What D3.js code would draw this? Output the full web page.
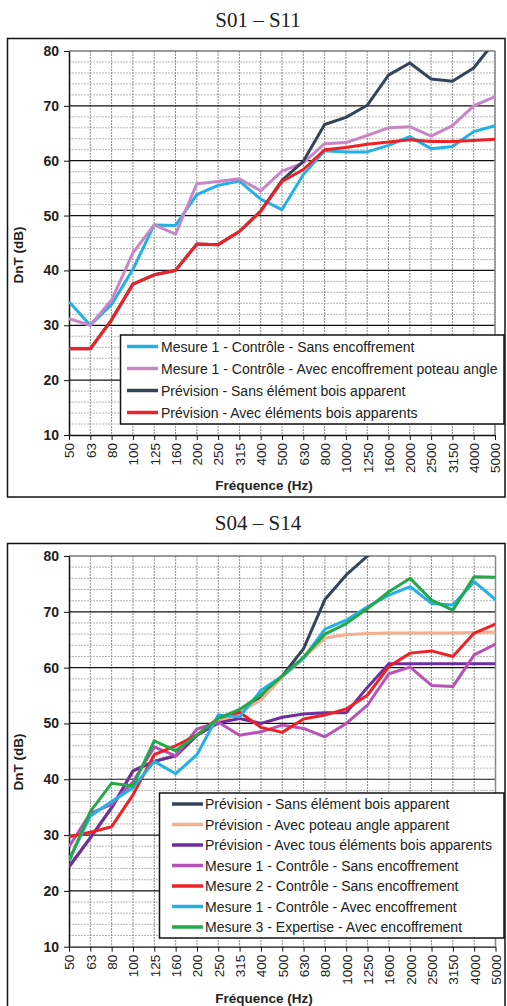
<!DOCTYPE html>
<html>
<head>
<meta charset="utf-8">
<script src="https://cdn.jsdelivr.net/npm/d3@7"></script>
<style>
  body { margin: 0; background: #fff; }
  svg { display: block; }
  text { font-family: "Liberation Sans", Arial, sans-serif; }
</style>
</head>
<body>
<svg id="chart" width="507" height="1006"></svg>
<script>
// Frequency bands (Hz)
const freqs = ["50", "63", "80", "100", "125", "160", "200", "250", "315", "400", "500",
  "630", "800", "1000", "1250", "1600", "2000", "2500", "3150", "4000", "5000"];
const yTicks = [10, 20, 30, 40, 50, 60, 70, 80];

// S01 - S11
const topTitle = "S01 – S11";
const topNames = [
  "Mesure 1 - Contrôle - Sans encoffrement",
  "Mesure 1 - Contrôle - Avec encoffrement poteau angle",
  "Prévision - Sans élément bois apparent",
  "Prévision - Avec éléments bois apparents"
];
const topMesure1Sans = [34.3, 30, 33.8, 40.2, 48.3, 48.2, 53.8, 55.5, 56.3, 53, 51.1, 57.5, 61.8, 61.6, 61.6, 62.8, 64.4, 62.2, 62.6, 65.3, 66.4];
const topMesure1Avec = [31.2, 30, 34.6, 43.2, 48.3, 46.6, 55.8, 56.2, 56.7, 54.5, 58.1, 59.6, 63.1, 63.3, 64.6, 66, 66.2, 64.5, 66.4, 70, 71.7];
const topPrevSans = [25.7, 25.7, 31, 37.5, 39.2, 40, 44.8, 44.7, 47.1, 50.8, 56.4, 59.9, 66.6, 67.9, 70.1, 75.6, 77.8, 74.9, 74.5, 76.9, 81.8];
const topPrevAvec = [25.7, 25.7, 31, 37.5, 39.2, 40, 44.8, 44.7, 47.1, 50.8, 56.2, 58.4, 62, 62.4, 63, 63.4, 63.8, 63.5, 63.5, 63.7, 63.9];
const topColors = ["#22b0e6", "#c986c6", "#344459", "#ee2226"];

// S04 - S14
const botTitle = "S04 – S14";
const botNames = [
  "Prévision - Sans élément bois apparent",
  "Prévision - Avec poteau angle apparent",
  "Prévision - Avec tous éléments bois apparents",
  "Mesure 1 - Contrôle - Sans encoffrement",
  "Mesure 2 - Contrôle - Sans encoffrement",
  "Mesure 1 - Contrôle - Avec encoffrement",
  "Mesure 3 - Expertise - Avec encoffrement"
];
const botPrevSans = [24.3, 29.5, 34.9, 41.5, 43.2, 44.2, 47.9, 50.2, 52, 54.8, 58.5, 63.4, 72.2, 76.6, 80, 83, 84, 84, 84, 84, 84];
const botPrevPoteau = [24.3, 29.5, 34.9, 41.5, 43.2, 44.2, 47.9, 50.2, 52, 54.2, 58.3, 61.7, 65.3, 65.9, 66.1, 66.2, 66.2, 66.2, 66.2, 66.3, 66.4];
const botPrevTous = [24.3, 29.5, 34.9, 41.5, 43.2, 44.2, 47.9, 50.1, 50.9, 50, 51.1, 51.7, 51.9, 51.9, 56.5, 60.7, 60.7, 60.7, 60.7, 60.7, 60.7];
const botMesure1Sans = [27.9, 33.9, 35.5, 39.5, 45.8, 44.2, 49, 50.2, 47.9, 48.5, 49.7, 49.1, 47.6, 50, 53.3, 58.9, 60.1, 56.8, 56.6, 62.3, 64.2];
const botMesure2Sans = [29.7, 30.5, 31.5, 37.2, 44.4, 46, 47.9, 51, 52, 49.3, 48.4, 50.8, 51.5, 52.6, 55.1, 60.2, 62.6, 63, 62, 66.2, 67.8];
const botMesure1Avec = [25.6, 33.4, 36, 38.5, 43.2, 41, 44.4, 51.5, 51.2, 55.9, 58.5, 61.7, 66.9, 68.5, 70.9, 73, 74.5, 71.5, 71.2, 75.4, 72.2];
const botMesure3 = [25.3, 34.2, 39.3, 38.8, 46.9, 45.1, 47.9, 50.9, 52.5, 55.1, 58.5, 61.9, 66, 67.9, 70.6, 73.6, 76, 72.1, 70.3, 76.3, 76.2];
const botColors = ["#344459", "#f5ae8e", "#6e2f9e", "#b752b7", "#ee2226", "#22b0e6", "#23a84a"];

const svg = d3.select("#chart");

function drawPanel(id, title, names, series, colors, L)
{
  const g = svg.append("g");

  // Title
  g.append("text")
    .attr("x", L.titleX).attr("y", L.titleY)
    .attr("text-anchor", "middle")
    .style("font-family", "'Liberation Serif', 'Times New Roman', serif")
    .style("font-size", "21px")
    .attr("fill", "#222")
    .text(title);

  // Outer frame
  g.append("rect")
    .attr("x", L.frame.x).attr("y", L.frame.y)
    .attr("width", L.frame.w).attr("height", L.frame.h)
    .attr("fill", "none").attr("stroke", "#111").attr("stroke-width", 1.5);

  const x = d3.scalePoint().domain(freqs).range([L.left, L.right]);
  const y = d3.scaleLinear().domain([10, 80]).range([L.bottom, L.top]);

  // Minor horizontal grid every 2 dB
  const minor = d3.range(12, 80, 2).filter(v => v % 10 !== 0);
  g.append("g").selectAll("line").data(minor).enter().append("line")
    .attr("x1", L.left).attr("x2", L.right)
    .attr("y1", d => y(d)).attr("y2", d => y(d))
    .attr("stroke", "#b5b5b5").attr("stroke-width", 1).attr("stroke-dasharray", "2,1");

  // Vertical grid
  g.append("g").selectAll("line").data(freqs.slice(1)).enter().append("line")
    .attr("x1", d => x(d)).attr("x2", d => x(d))
    .attr("y1", L.top).attr("y2", L.bottom)
    .attr("stroke", "#8c8c8c").attr("stroke-width", 1).attr("stroke-dasharray", "2,1");

  // Major horizontal grid
  g.append("g").selectAll("line").data(yTicks.slice(1)).enter().append("line")
    .attr("x1", L.left).attr("x2", L.right)
    .attr("y1", d => y(d)).attr("y2", d => y(d))
    .attr("stroke", d => d === 80 ? "#777" : "#111")
    .attr("stroke-width", d => d === 80 ? 1.5 : 1.2);

  // Axes
  const yAxis = g.append("g")
    .attr("transform", `translate(${ L.left }, 0)`)
    .call(d3.axisLeft(y).tickValues(yTicks).tickSize(5).tickPadding(5).tickSizeOuter(0));
  yAxis.select(".domain").attr("stroke", "#111").attr("stroke-width", 1.5);
  yAxis.selectAll("line").attr("stroke", "#111");
  yAxis.selectAll("text")
    .style("font-size", "14px").style("font-weight", "bold").attr("fill", "#222");

  const xAxis = g.append("g")
    .attr("transform", `translate(0, ${ L.bottom })`)
    .call(d3.axisBottom(x).tickSize(5).tickSizeOuter(0));
  xAxis.select(".domain").attr("stroke", "#111").attr("stroke-width", 1.3);
  xAxis.selectAll("line").attr("stroke", "#111");
  xAxis.selectAll("text")
    .attr("transform", "rotate(-90)")
    .attr("text-anchor", "end")
    .attr("x", -8).attr("y", 0).attr("dy", "0.36em")
    .style("font-size", "13.5px").attr("fill", "#222");

  // Axis titles
  g.append("text")
    .attr("x", L.xLabelX).attr("y", L.xLabelY)
    .attr("text-anchor", "middle")
    .style("font-size", "13.5px").style("font-weight", "bold").attr("fill", "#222")
    .text("Fréquence (Hz)");

  g.append("text")
    .attr("transform", `translate(${ L.yLabelX }, ${ L.yLabelY }) rotate(-90)`)
    .attr("text-anchor", "middle")
    .style("font-size", "13.5px").style("font-weight", "bold").attr("fill", "#222")
    .text("DnT (dB)");

  // Right border line of plot area
  g.append("line")
    .attr("x1", L.right).attr("x2", L.right).attr("y1", L.top).attr("y2", L.bottom)
    .attr("stroke", "#888").attr("stroke-width", 1.5);

  // Clip
  svg.append("defs").append("clipPath").attr("id", id)
    .append("rect")
    .attr("x", L.left).attr("y", L.top)
    .attr("width", L.right - L.left).attr("height", L.bottom - L.top);

  const line = d3.line()
    .x((d, i) => x(freqs[i]))
    .y(d => y(d));

  g.append("g").attr("clip-path", `url(#${ id })`)
    .selectAll("path").data(series).enter().append("path")
    .attr("d", d => line(d))
    .attr("fill", "none")
    .attr("stroke", (d, i) => colors[i])
    .attr("stroke-width", 3)
    .attr("stroke-linejoin", "round");

  // Legend
  const leg = g.append("g");
  leg.append("rect")
    .attr("x", L.leg.x).attr("y", L.leg.y)
    .attr("width", L.leg.w).attr("height", L.leg.h)
    .attr("fill", "#fff").attr("stroke", "#111").attr("stroke-width", 1.5);

  names.forEach((name, i) =>
  {
    const cy = L.leg.row0 + i * L.leg.step;
    leg.append("line")
      .attr("x1", L.leg.lx1).attr("x2", L.leg.lx2)
      .attr("y1", cy).attr("y2", cy)
      .attr("stroke", colors[i]).attr("stroke-width", 3.5);
    leg.append("text")
      .attr("x", L.leg.tx).attr("y", cy + 5)
      .style("font-size", "14px").attr("fill", "#222")
      .text(name);
  });
}

drawPanel("clipTop", topTitle, topNames,
  [topMesure1Sans, topMesure1Avec, topPrevSans, topPrevAvec], topColors,
  {
    titleX: 258, titleY: 27,
    frame: { x: 7.5, y: 38.5, w: 497.5, h: 458.5 },
    left: 69, right: 495, top: 51, bottom: 435,
    xLabelX: 264, xLabelY: 490,
    yLabelX: 22.5, yLabelY: 255,
    leg: { x: 120.5, y: 335, w: 383.5, h: 89, row0: 346.5, step: 22, lx1: 127, lx2: 158, tx: 161 }
  });

drawPanel("clipBot", botTitle, botNames,
  [botPrevSans, botPrevPoteau, botPrevTous, botMesure1Sans, botMesure2Sans, botMesure1Avec, botMesure3], botColors,
  {
    titleX: 258, titleY: 530,
    frame: { x: 7.5, y: 543.5, w: 497.5, h: 475 },
    left: 69, right: 495.5, top: 556, bottom: 946.7,
    xLabelX: 264, xLabelY: 1003,
    yLabelX: 22.5, yLabelY: 762,
    leg: { x: 159.5, y: 793, w: 344.5, h: 145, row0: 804, step: 20.5, lx1: 172, lx2: 203, tx: 205 }
  });
</script>
</body>
</html>
